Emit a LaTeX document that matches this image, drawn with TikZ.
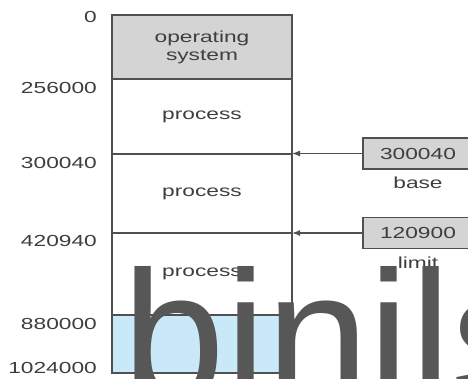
\documentclass[tikz,border=0pt]{standalone}
\usepackage{fontspec}
\setmainfont{Liberation Sans}[FakeStretch=1.42]
\newfontfamily\markfont{Liberation Sans}
\usetikzlibrary{arrows.meta,positioning}
\definecolor{osgray}{HTML}{D4D4D4}
\definecolor{holeblue}{HTML}{C9E9F8}
\definecolor{edge}{HTML}{505050}
\definecolor{ink}{HTML}{3E3E3E}
\definecolor{mark}{HTML}{575757}

\tikzset{
  region/.style={draw=edge, line width=1.1pt, minimum width=180pt, inner sep=0pt, outer sep=0pt, align=center, text=ink},
  addr/.style={anchor=east, inner sep=0pt, text=ink},
  reg/.style={draw=edge, fill=osgray, line width=1.1pt, minimum width=110pt, minimum height=31pt, inner sep=0pt, text=ink},
  ptr/.style={edge, line width=1.4pt, -{Latex[length=8pt,width=6pt]}},
}

\begin{document}
\begin{tikzpicture}[x=1pt,y=-1pt,font=\fontsize{16}{18}\selectfont]
  \useasboundingbox (0,0) rectangle (468,378);
  \clip (0,0) rectangle (468,378);

  % memory blocks
  \node[region, fill=osgray, minimum height=64pt] (os) at (202,47) {operating\\system};
  \node[region, minimum height=75pt, below=0pt of os] (p1) {process};
  \node[region, minimum height=79pt, below=0pt of p1] (p2) {process};
  \node[region, minimum height=82pt, below=0pt of p2] (p3) {process};
  \node[region, fill=holeblue, minimum height=58pt, below=0pt of p3] (hole) {};

  % addresses
  \node[addr] (a0) at (97,17) {0};
  \node[addr] (a1) at (97,87.5) {256000};
  \node[addr] (a2) at (97,162.5) {300040};
  \node[addr] (a3) at (97,241) {420940};
  \node[addr] (a4) at (97,324) {880000};
  \node[addr] (a5) at (97,367.5) {1024000};

  % registers
  \node[reg] (base) at (418,153.5) {300040};
  \node[below=4pt of base, text=ink] (baselbl) {base};
  \node[reg] (limit) at (418,233) {120900};
  \node[below=4pt of limit, text=ink] (limitlbl) {limit};

  \draw[ptr] (base.west) -- (base.west -| p2.east);
  \draw[ptr] (limit.west) -- (limit.west -| p3.east);

  % watermark
  \node[anchor=base west, inner sep=0pt, text=mark, font=\markfont\fontsize{185}{185}\selectfont] (wm) at (122,400) {binils};
\end{tikzpicture}
\end{document}
